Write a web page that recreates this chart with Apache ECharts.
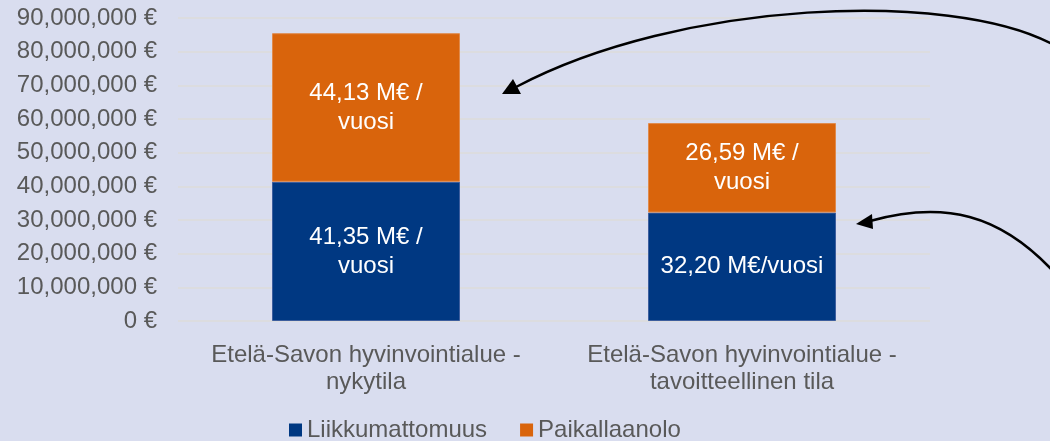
<!DOCTYPE html>
<html><head><meta charset="utf-8">
<script src="https://cdn.jsdelivr.net/npm/echarts@6/dist/echarts.min.js"></script>
<style>html,body{margin:0;padding:0;background:#D9DDEF;}#c{width:1050px;height:441px;}</style>
</head><body><div id="c"></div>
<script>
const categories = ["Etelä-Savon hyvinvointialue -\nnykytila", "Etelä-Savon hyvinvointialue -\ntavoitteellinen tila"];
const seriesNames = ["Liikkumattomuus", "Paikallaanolo"];
const liikkumattomuus = [41350000, 32200000];
const paikallaanolo = [44130000, 26590000];
const liikkumattomuusLabels = ["41,35 M€ /\nvuosi", "32,20 M€/vuosi"];
const paikallaanoloLabels = ["44,13 M€ /\nvuosi", "26,59 M€ /\nvuosi"];
const yMin = 0, yMax = 90000000, yInterval = 10000000;

const chart = echarts.init(document.getElementById('c'));
const font = '"Liberation Sans", Arial, sans-serif';
const labelStyle = {show: true, position: 'inside', color: '#ffffff', fontSize: 24, fontFamily: font, lineHeight: 29};
chart.setOption({
  backgroundColor: '#D9DDEF',
  animation: false,
  grid: {left: 178, right: 120, top: 18, bottom: 120},
  legend: {
    data: seriesNames, left: 289, top: 417, itemWidth: 13, itemHeight: 13, itemGap: 33,
    icon: 'rect', padding: 0,
    itemStyle: {borderWidth: 0},
    textStyle: {color: '#595959', fontSize: 24, fontFamily: font, lineHeight: 26}
  },
  xAxis: {
    type: 'category', data: categories,
    axisLine: {show: false}, axisTick: {show: false},
    axisLabel: {color: '#595959', fontSize: 24, fontFamily: font, lineHeight: 27, margin: 21, interval: 0}
  },
  yAxis: {
    type: 'value', min: yMin, max: yMax, interval: yInterval,
    axisLine: {show: false}, axisTick: {show: false},
    splitLine: {lineStyle: {color: '#DCDCDF', width: 2}},
    axisLabel: {color: '#595959', fontSize: 24, fontFamily: font, margin: 21,
      formatter: v => v.toLocaleString('en-US') + ' €'}
  },
  series: [
    {name: seriesNames[0], type: 'bar', stack: 'a', barWidth: '50%', data: liikkumattomuus,
     itemStyle: {color: '#003882', borderColor: '#3D5E9E', borderWidth: 1},
     label: Object.assign({}, labelStyle, {formatter: p => liikkumattomuusLabels[p.dataIndex]})},
    {name: seriesNames[1], type: 'bar', stack: 'a', barWidth: '50%', data: paikallaanolo,
     itemStyle: {color: '#D9640C', borderColor: '#E08A4C', borderWidth: 1},
     label: Object.assign({}, labelStyle, {formatter: p => paikallaanoloLabels[p.dataIndex]})}
  ],
  graphic: [
    {type: 'bezierCurve', shape: {x1: 1052, y1: 44, cpx1: 950, cpy1: -10, cpx2: 680, cpy2: 0, x2: 516, y2: 87},
     style: {stroke: '#000', lineWidth: 2.5, fill: null}, z: 100},
    {type: 'polygon', shape: {points: [[502, 94], [513, 79], [521, 94]]},
     style: {fill: '#000'}, z: 100},
    {type: 'bezierCurve', shape: {x1: 1052, y1: 270, cpx1: 1000, cpy1: 215, cpx2: 945, cpy2: 200, x2: 870, y2: 221},
     style: {stroke: '#000', lineWidth: 2.5, fill: null}, z: 100},
    {type: 'polygon', shape: {points: [[856, 224], [872, 214], [873, 229]]},
     style: {fill: '#000'}, z: 100}
  ]
});
</script></body></html>
